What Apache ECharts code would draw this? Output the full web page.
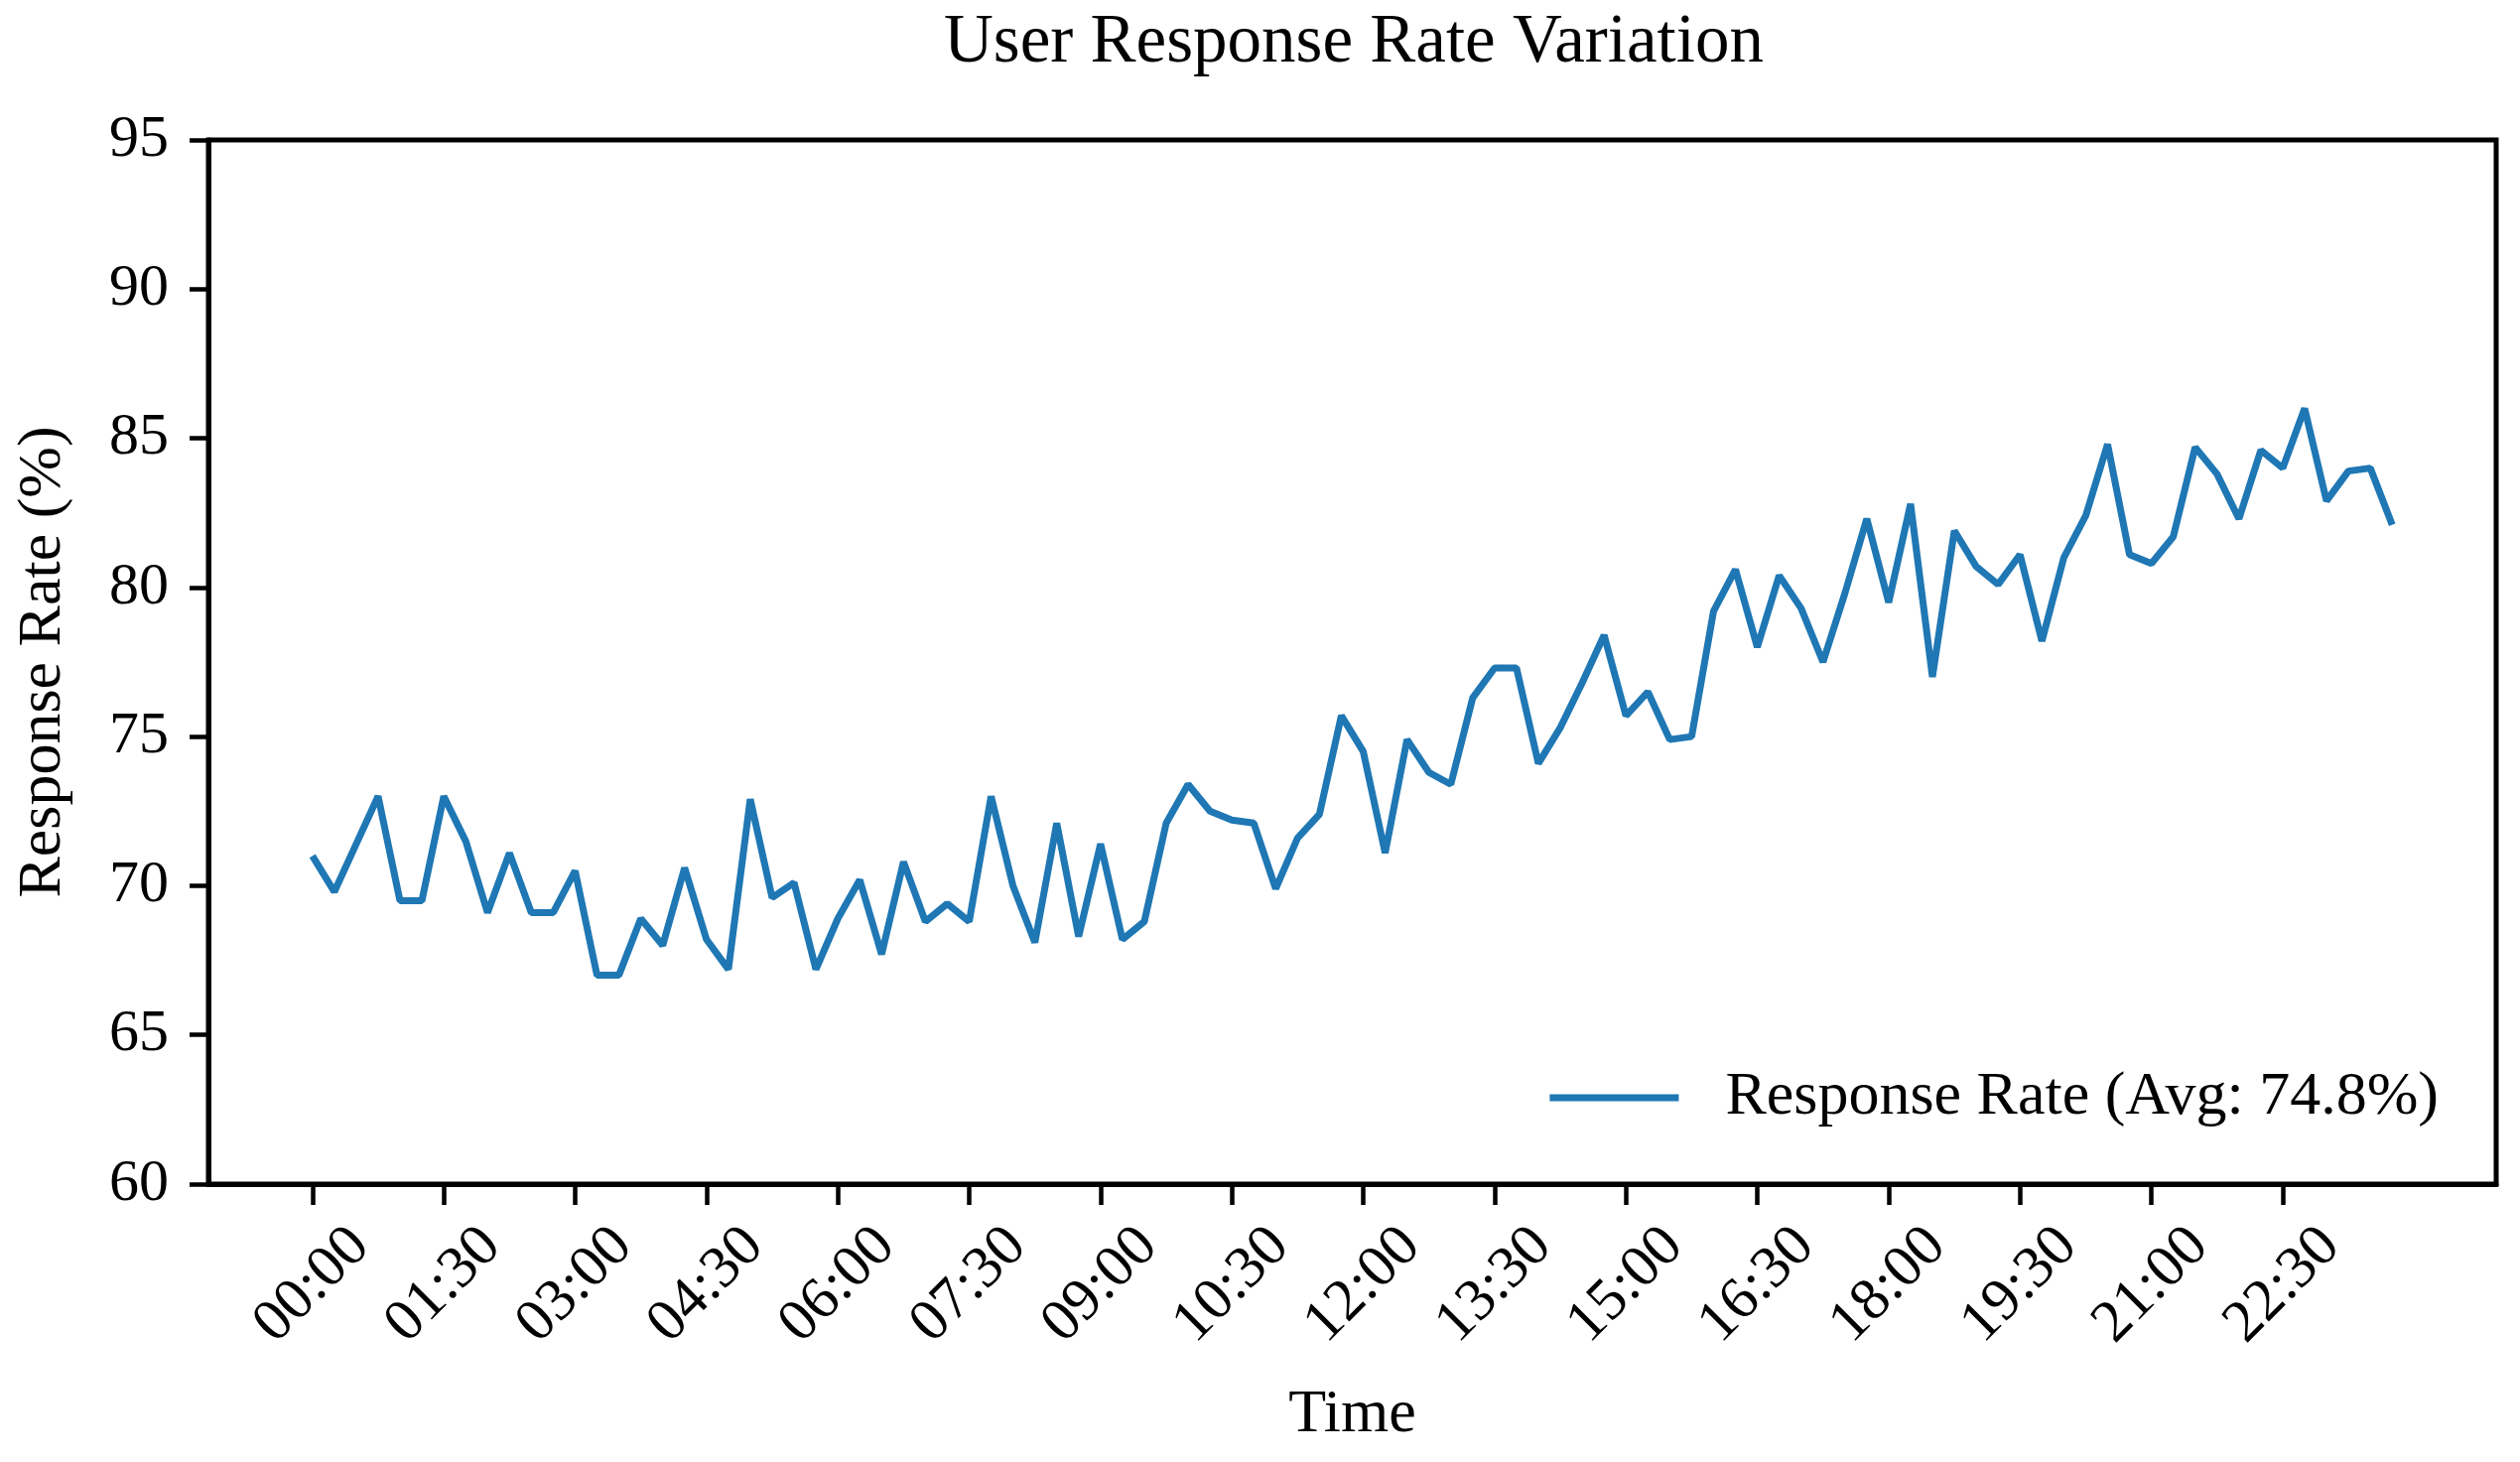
<!DOCTYPE html>
<html>
<head>
<meta charset="utf-8">
<script src="https://cdn.jsdelivr.net/npm/echarts@6/dist/echarts.min.js"></script>
<style>html,body{margin:0;padding:0;background:#fff}#c{width:2539px;height:1473px}</style>
</head>
<body>
<div id="c"></div>
<script>
const times = [
"00:00","00:15","00:30","00:45","01:00","01:15","01:30","01:45","02:00","02:15","02:30","02:45",
"03:00","03:15","03:30","03:45","04:00","04:15","04:30","04:45","05:00","05:15","05:30","05:45",
"06:00","06:15","06:30","06:45","07:00","07:15","07:30","07:45","08:00","08:15","08:30","08:45",
"09:00","09:15","09:30","09:45","10:00","10:15","10:30","10:45","11:00","11:15","11:30","11:45",
"12:00","12:15","12:30","12:45","13:00","13:15","13:30","13:45","14:00","14:15","14:30","14:45",
"15:00","15:15","15:30","15:45","16:00","16:15","16:30","16:45","17:00","17:15","17:30","17:45",
"18:00","18:15","18:30","18:45","19:00","19:15","19:30","19:45","20:00","20:15","20:30","20:45",
"21:00","21:15","21:30","21:45","22:00","22:15","22:30","22:45","23:00","23:15","23:30","23:45"
];
const responseRate = [
71.0,69.8,71.4,73.0,69.5,69.5,73.0,71.5,69.1,71.1,69.1,69.1,
70.5,67.0,67.0,68.9,68.0,70.6,68.2,67.2,72.9,69.6,70.1,67.2,
68.9,70.2,67.7,70.8,68.8,69.4,68.8,73.0,70.0,68.1,72.1,68.3,
71.4,68.2,68.8,72.1,73.4,72.5,72.2,72.1,69.9,71.6,72.4,75.7,
74.5,71.1,74.9,73.8,73.4,76.3,77.3,77.3,74.1,75.3,76.8,78.4,
75.7,76.5,74.9,75.0,79.2,80.6,78.0,80.4,79.3,77.5,79.8,82.3,
79.5,82.8,77.0,81.9,80.7,80.1,81.1,78.2,81.0,82.4,84.8,81.1,
80.8,81.7,84.7,83.8,82.3,84.6,84.0,86.0,82.9,83.9,84.0,82.1
];
const xTickIdx = [0,6,12,18,24,30,36,42,48,54,60,66,72,78,84,90];
const yTicks = [60,65,70,75,80,85,90,95];
const avg = (responseRate.reduce((a,b)=>a+b,0)/responseRate.length).toFixed(1);
const seriesName = 'Response Rate (Avg: ' + avg + '%)';

const FONT = "'Liberation Serif', 'Times New Roman', serif";
const chart = echarts.init(document.getElementById('c'), null, {renderer:'canvas'});
chart.setOption({
  animation:false,
  backgroundColor:'#fff',
  textStyle:{fontFamily:FONT,color:'#000'},
  title:{text:'User Response Rate Variation',left:946,top:4,
    textStyle:{fontFamily:FONT,fontSize:69,fontWeight:'normal',color:'#000'}},
  grid:{left:210,right:24,top:141,bottom:280,show:true,borderColor:'#000',borderWidth:5,containLabel:false},
  legend:{right:77,top:1070,itemWidth:130,itemHeight:7,
    data:[{name:seriesName,icon:'rect'}],
    itemStyle:{color:'#1f77b4'},
    textStyle:{fontFamily:FONT,fontSize:62,color:'#000',padding:[0,0,0,42]}},
  xAxis:{type:'value',min:-4.75,max:99.75,
    name:'Time',nameLocation:'middle',nameGap:233,
    nameTextStyle:{fontFamily:FONT,fontSize:62,color:'#000',verticalAlign:'middle'},
    axisLine:{show:true,onZero:false,lineStyle:{color:'#000',width:5}},
    axisTick:{show:true,customValues:xTickIdx,length:21,lineStyle:{color:'#000',width:4.5}},
    axisLabel:{show:true,customValues:xTickIdx,rotate:45,align:'center',verticalAlign:'middle',margin:102,
      fontFamily:FONT,fontSize:60,color:'#000',formatter:v=>times[Math.round(v)]},
    splitLine:{show:false}},
  yAxis:{type:'value',min:60,max:95,interval:5,
    name:'Response Rate (%)',nameLocation:'middle',nameGap:166,nameRotate:90,
    nameTextStyle:{fontFamily:FONT,fontSize:62,color:'#000',verticalAlign:'middle'},
    axisLine:{show:true,onZero:false,lineStyle:{color:'#000',width:5}},
    axisTick:{show:true,length:19,lineStyle:{color:'#000',width:4.5}},
    axisLabel:{margin:40,fontFamily:FONT,fontSize:60,color:'#000'},
    splitLine:{show:false}},
  series:[{type:'line',name:seriesName,
    data:responseRate.map((v,i)=>[i,v]),
    showSymbol:false,symbol:'none',
    lineStyle:{color:'#1f77b4',width:7},itemStyle:{color:'#1f77b4'}}]
});
</script>
</body>
</html>
